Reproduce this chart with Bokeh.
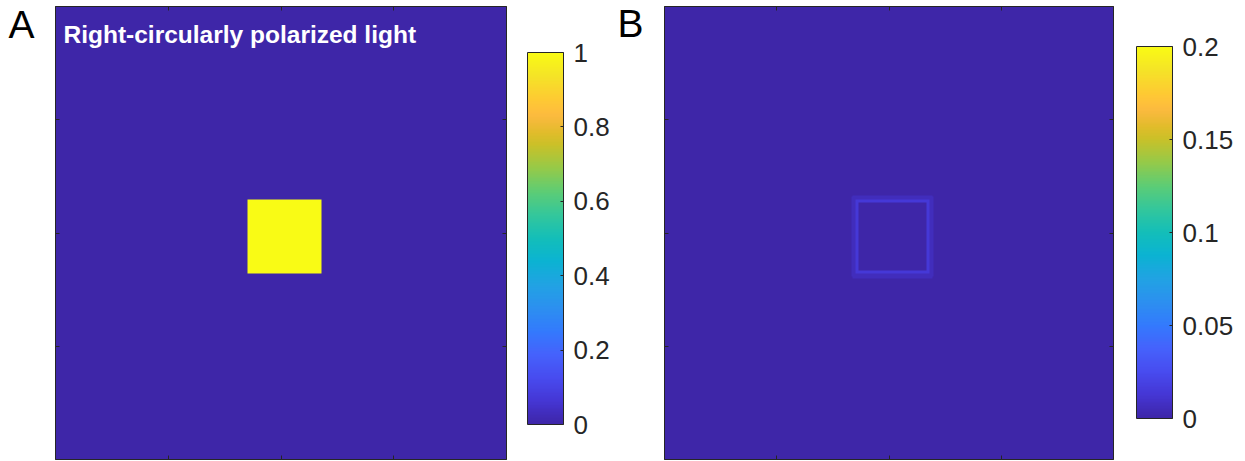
import numpy as np
from bokeh.plotting import figure
from bokeh.layouts import row
from bokeh.models import (LinearColorMapper, ColorBar, FixedTicker, Label, Range1d,
                          LinearAxis, CustomJSTickFormatter, CustomLabelingPolicy)
from bokeh.embed import file_html
from bokeh.resources import INLINE

# ---- data -------------------------------------------------------------
EXTENT = (-2.0, 2.0)          # field coordinates on both axes
AXIS_TICKS = [-1, 0, 1]

# panel A: uniform square on a coarse grid (cell ranges counted from the top/left)
GRID_A = 61
SQUARE_A = (26, 36)
SQUARE_VALUE = 1.0

# panel B: faint rim along the same square, on a fine grid
GRID_B = 305
SQUARE_B = (130, 180)
RIM_VALUE = 0.014
RIM_WIDTH = 2
HALO_VALUE = 0.006
HALO_WIDTH = 3

CBAR_A_TICKS = [0, 0.2, 0.4, 0.6, 0.8, 1]
CBAR_A_RANGE = (0, 1)
CBAR_B_TICKS = [0, 0.05, 0.1, 0.15, 0.2]
CBAR_B_RANGE = (0, 0.2)

TITLE_A = "Right-circularly polarized light"
PANEL_LETTERS = ["A", "B"]

# parula colour stops (position, r, g, b)
PARULA_STOPS = [
    (0.0000, 0.2422, 0.1504, 0.6603),
    (0.0627, 0.2704, 0.2138, 0.8346),
    (0.1255, 0.2813, 0.2985, 0.9397),
    (0.1882, 0.2710, 0.3860, 0.9898),
    (0.2510, 0.2006, 0.4803, 0.9906),
    (0.3137, 0.1716, 0.5655, 0.9393),
    (0.3765, 0.1288, 0.6408, 0.8910),
    (0.4392, 0.0433, 0.7039, 0.8242),
    (0.5020, 0.0770, 0.7468, 0.7224),
    (0.5647, 0.2061, 0.7808, 0.6065),
    (0.6275, 0.3671, 0.8021, 0.4563),
    (0.6902, 0.5886, 0.7913, 0.2833),
    (0.7529, 0.7945, 0.7554, 0.1570),
    (0.7843, 0.8804, 0.7372, 0.1650),
    (0.8157, 0.9523, 0.7284, 0.2237),
    (0.8314, 0.9842, 0.7330, 0.2446),
    (0.8471, 0.9971, 0.7513, 0.2309),
    (0.8784, 0.9938, 0.7974, 0.1974),
    (0.9412, 0.9601, 0.8963, 0.1507),
    (1.0000, 0.9769, 0.9839, 0.0805),
]


def build_palette(stops, n=256):
    pos = np.array([s[0] for s in stops])
    t = np.linspace(0, 1, n)
    chans = [np.interp(t, pos, np.array([s[k] for s in stops])) for k in (1, 2, 3)]
    return ["#%02x%02x%02x" % tuple(int(round(c[i] * 255)) for c in chans) for i in range(n)]


PALETTE = build_palette(PARULA_STOPS)

# ---- fields -----------------------------------------------------------
field_a = np.zeros((GRID_A, GRID_A))
field_a[SQUARE_A[0]:SQUARE_A[1], SQUARE_A[0]:SQUARE_A[1]] = SQUARE_VALUE
field_a = field_a[::-1]

c = np.arange(GRID_B) + 0.5
lo, hi = SQUARE_B
out_1d = np.maximum(np.maximum(lo - c, c - hi), 0)
in_1d = np.minimum(c - lo, hi - c)
OX, OY = np.meshgrid(out_1d, out_1d)
IX, IY = np.meshgrid(in_1d, in_1d)
inside = (IX > 0) & (IY > 0)
depth = np.minimum(IX, IY)
dist_out = np.hypot(OX, OY)
field_b = np.zeros((GRID_B, GRID_B))
field_b[inside & (depth < RIM_WIDTH)] = RIM_VALUE
field_b[(~inside) & (dist_out < HALO_WIDTH)] = HALO_VALUE
field_b = field_b[::-1]

# ---- styling ----------------------------------------------------------
INK = "#262626"
FONT = "Liberation Sans"
HEIGHT = 461
FRAME_H = 453

label_fmt = CustomJSTickFormatter(code="return String(Math.round(tick * 100) / 100);")
# tick marks only, no tick labels on the image axes
no_labels = CustomLabelingPolicy(code="""
    const keep = []
    for (const i of indices) keep.push(i)
    for (const i of keep) indices.unset(i)
    return indices
""")


def make_panel(field, crange, cticks, frame_w, border_r, cb_loc):
    p = figure(frame_width=frame_w, frame_height=FRAME_H, x_range=EXTENT, y_range=EXTENT,
               output_backend="svg", toolbar_location=None,
               x_axis_location=None, y_axis_location=None,
               min_border_left=10, min_border_right=border_r,
               min_border_top=6, min_border_bottom=2,
               background_fill_color="white", border_fill_color="white",
               outline_line_color=INK)
    p.grid.visible = False
    mapper = LinearColorMapper(palette=PALETTE, low=crange[0], high=crange[1])
    p.image(image=[field], x=EXTENT[0], y=EXTENT[0],
            dw=EXTENT[1] - EXTENT[0], dh=EXTENT[1] - EXTENT[0], color_mapper=mapper)

    for side in ("left", "right", "above", "below"):
        ax = LinearAxis(ticker=FixedTicker(ticks=AXIS_TICKS), major_tick_in=4, major_tick_out=0,
                        minor_tick_line_color=None, major_label_text_font_size="1px",
                        major_label_standoff=0, major_label_policy=no_labels,
                        axis_line_color=INK, major_tick_line_color=INK)
        p.add_layout(ax, side)

    cb = ColorBar(color_mapper=mapper, ticker=FixedTicker(ticks=cticks), formatter=label_fmt,
                  width=36, height=372, location=cb_loc, padding=0, margin=0,
                  major_tick_in=3, major_tick_out=0, major_tick_line_color=INK,
                  minor_tick_line_color=None, bar_line_color=INK,
                  border_line_color=None, background_fill_color=None,
                  major_label_text_font=FONT, major_label_text_font_size="26px",
                  major_label_text_color=INK, label_standoff=10)
    p.add_layout(cb, "right")
    return p


def letter_strip(text, width, x, y):
    # narrow strip beside a panel that carries its letter, in pixel-like coordinates
    s = figure(width=width, height=HEIGHT, title=None,
               x_range=Range1d(0, width), y_range=Range1d(HEIGHT, 0),
               output_backend="svg", toolbar_location=None,
               x_axis_location=None, y_axis_location=None, min_border=0,
               outline_line_color=None, background_fill_color="white",
               border_fill_color="white")
    s.grid.visible = False
    s.add_layout(Label(x=x, y=y, text=text, text_font=FONT, text_font_size="39px",
                       text_color="black", text_baseline="alphabetic", text_align="left"))
    return s


pa = make_panel(field_a, CBAR_A_RANGE, CBAR_A_TICKS, 451, 106, (17, 35))
pa.add_layout(Label(x=EXTENT[0], y=EXTENT[1], x_offset=8, y_offset=-28, text=TITLE_A,
                    text_font=FONT, text_font_style="bold", text_font_size="24.5px",
                    text_color="white", text_baseline="alphabetic"))
pb = make_panel(field_b, CBAR_B_RANGE, CBAR_B_TICKS, 449, 132, (19, 41))

layout = row(letter_strip(PANEL_LETTERS[0], 45, 8, 18), pa,
             letter_strip(PANEL_LETTERS[1], 42, 5, 17), pb)
open("out.html", "w").write(file_html(layout, INLINE))
